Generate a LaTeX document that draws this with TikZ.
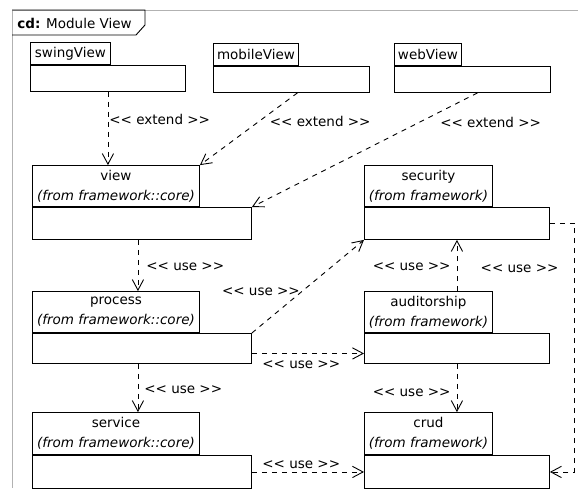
\documentclass[tikz,border=0pt]{standalone}
\usepackage{fontspec}
\setmainfont{DejaVu Sans}[Ligatures=TeXOff]
\usetikzlibrary{positioning,arrows.meta}
\begin{document}
\begin{tikzpicture}[x=1pt, y=-1pt, line width=0.9pt, font=\fontsize{13.5}{20}\selectfont,
  pkgbody/.style 2 args={draw, anchor=north west, inner sep=0pt, minimum width=#1, minimum height=#2},
  pkgtab/.style 2 args={draw, inner sep=1pt, align=center, minimum width=#1, minimum height=#2},
  dep/.style={dash pattern=on 5pt off 5pt, -{Straight Barb[angle=56:12pt]}},
  lbl/.style={inner sep=1pt}]
\useasboundingbox (0,0) rectangle (578,496);
\draw[gray!60] (578,10) -- (12,10) -- (12,488);
\draw (12,10) -- (145,10) -- (145,25) -- (136,35) -- (12,35);
\node[anchor=west, inner sep=0pt] (title) at (17,23) {\textbf{cd:} Module View};
\node[pkgbody={155pt}{26pt}] (swingView) at (30,65) {};
\node[pkgtab={80pt}{22pt}, above right=0pt of swingView.north west] (swingViewTab) {swingView};
\node[pkgbody={156pt}{26pt}] (mobileView) at (213,66) {};
\node[pkgtab={85pt}{22pt}, above right=0pt of mobileView.north west] (mobileViewTab) {mobileView};
\node[pkgbody={156pt}{26pt}] (webView) at (394,66) {};
\node[pkgtab={67pt}{22pt}, above right=0pt of webView.north west] (webViewTab) {webView};
\node[pkgbody={219pt}{32pt}] (view) at (32,207) {};
\node[pkgtab={167pt}{41pt}, above right=0pt of view.north west] (viewTab) {view\\\textit{(from framework::core)}};
\node[pkgbody={185pt}{32pt}] (security) at (364,207) {};
\node[pkgtab={128pt}{41pt}, above right=0pt of security.north west] (securityTab) {security\\\textit{(from framework)}};
\node[pkgbody={219pt}{30pt}] (process) at (32,333) {};
\node[pkgtab={167pt}{41pt}, above right=0pt of process.north west] (processTab) {process\\\textit{(from framework::core)}};
\node[pkgbody={185pt}{30pt}] (auditorship) at (364,333) {};
\node[pkgtab={128pt}{41pt}, above right=0pt of auditorship.north west] (auditorshipTab) {auditorship\\\textit{(from framework)}};
\node[pkgbody={219pt}{33pt}] (service) at (32,455) {};
\node[pkgtab={167pt}{42pt}, above right=0pt of service.north west] (serviceTab) {service\\\textit{(from framework::core)}};
\node[pkgbody={185pt}{33pt}] (crud) at (364,455) {};
\node[pkgtab={128pt}{42pt}, above right=0pt of crud.north west] (crudTab) {crud\\\textit{(from framework)}};
\draw[dep] (swingView.south) -- (swingView.south |- viewTab.north) node[lbl, pos=0.37, anchor=west] {<< extend >>};
\draw[dep] ([xshift=6pt]mobileView.south) -- (viewTab.north east) node[lbl, pos=0.4, anchor=west, xshift=10pt] {<< extend >>};
\draw[dep] ([xshift=5pt]webView.south) -- (view.north east) node[lbl, pos=0.26, anchor=west, xshift=20pt] {<< extend >>};
\draw[dep] ([xshift=-4pt]view.south) -- ([xshift=-4pt]view.south |- processTab.north) node[lbl, pos=0.53, anchor=west, xshift=7pt] {<< use >>};
\draw[dep] (process.north east) -- (security.south west) node[lbl, pos=0.44, anchor=east] {<< use >>};
\draw[dep] ([yshift=-5pt]process.east) -- ([yshift=-5pt]auditorship.west) node[lbl, pos=0.44, below, yshift=-6pt] {<< use >>};
\draw[dep] (auditorship.center |- auditorshipTab.north) -- (security.south) node[lbl, pos=0.47, anchor=east, xshift=-5pt] {<< use >>};
\draw[dep] (auditorship.south) -- (auditorship.south |- crudTab.north) node[lbl, pos=0.59, anchor=east, xshift=-5pt] {<< use >>};
\draw[dep] (security.east) -| ([xshift=25pt]crud.east) node[lbl, pos=0.59, anchor=east, xshift=-15pt] {<< use >>} -- (crud.east);
\draw[dep] ([xshift=-4pt]process.south) -- ([xshift=-4pt]process.south |- serviceTab.north) node[lbl, pos=0.53, anchor=west, xshift=5pt] {<< use >>};
\draw[dep] (service.east) -- (crud.west) node[lbl, pos=0.44, above, yshift=2pt] {<< use >>};
\end{tikzpicture}
\end{document}
